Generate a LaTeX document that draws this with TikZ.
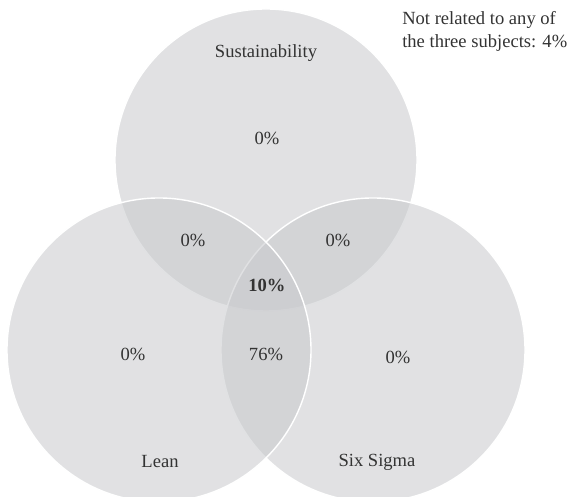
\documentclass[tikz,border=0pt]{standalone}
\usepackage{fontspec}
\setmainfont{Liberation Serif}

\definecolor{venngray}{RGB}{200,201,204}

\tikzset{
	venn/.style={draw=white, line width=1pt, fill=venngray, fill opacity=.55},
	lbl/.style={font=\fontsize{13.2}{16.4}\selectfont, text=black!80, inner sep=0pt}
}

\begin{document}
\begin{tikzpicture}[x=0.025cm, y=0.025cm]

	\useasboundingbox (0,0) rectangle (568,497);

	% circles: top, right, left
	\draw[venn] (266,337) circle (151);
	\draw[venn] (373,147) circle (152);
	\draw[venn] (159,147) circle (152);

	% set names
	\node[lbl] (sust) at (266,444) {Sustainability};
	\node[lbl] (lean) at (160,35) {Lean};
	\node[lbl] (six) at (377,35) {Six Sigma};

	% shares
	\node[lbl] (s) at (267,359) {0\%};
	\node[lbl] (ls) at (193,257) {0\%};
	\node[lbl] (rs) at (338,257) {0\%};
	\node[lbl] (all) at (267,212) {\textbf{10\%}};
	\node[lbl] (l) at (133,143) {0\%};
	\node[lbl] (lr) at (266,143) {76\%};
	\node[lbl] (r) at (398,140) {0\%};

	% outside
	\node[lbl, anchor=west, align=left] (none) at (402,466)
		{Not related to any of\\the three subjects: 4\%};

\end{tikzpicture}
\end{document}
